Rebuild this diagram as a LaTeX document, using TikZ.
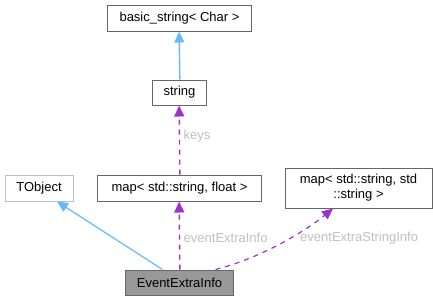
\documentclass[tikz,border=0pt]{standalone}
\usepackage{fontspec}
\setmainfont{Liberation Sans}
\usetikzlibrary{arrows.meta,calc}
\definecolor{boxborder}{HTML}{666666}
\definecolor{lightborder}{HTML}{BFBFBF}
\definecolor{mainfill}{HTML}{999999}
\definecolor{inhblue}{HTML}{63B8FF}
\definecolor{usepurple}{HTML}{9A32CD}
\definecolor{lblgray}{HTML}{BEBEBE}
\tikzset{
  cls/.style={draw=boxborder, line width=1pt, inner sep=0pt, align=center, font=\fontsize{13pt}{15pt}\selectfont, text=black},
  inh/.style={color=inhblue, line width=1.2pt, -{Triangle[length=11pt,width=10pt]}},
  use/.style={color=usepurple, line width=1.2pt, dash pattern=on 5pt off 5pt, -{Triangle[length=11pt,width=10pt]}},
  vert/.style={line width=1.4pt},
  lbl/.style={text=lblgray, font=\fontsize{13pt}{15pt}\selectfont, inner sep=0pt, anchor=west}
}
\begin{document}
\begin{tikzpicture}[x=1pt,y=-1pt]
\useasboundingbox (0,0) rectangle (433,301);
\node[cls, minimum width=144pt, minimum height=26pt] (bs) at (179.5,18) {basic\_string< Char >};
\node[cls, minimum width=54pt, minimum height=25pt] (str) at (179.5,92.5) {string};
\node[cls, minimum width=164pt, minimum height=26pt] (mapf) at (179.5,188) {map< std::string, float >};
\node[cls, draw=lightborder, minimum width=68pt, minimum height=26pt] (tobj) at (39,188) {TObject};
\node[cls, minimum width=147pt, minimum height=40pt] (maps) at (358.5,188) {map< std::string, std\\::string >};
\node[cls, fill=mainfill, minimum width=108pt, minimum height=25pt] (eei) at (179.5,282.5) {EventExtraInfo};

\draw[inh, vert] ($(str.north)+(0.35,0)$) -- ($(bs.south)+(-0.35,0)$);
\draw[use, vert] ($(mapf.north)+(0.35,0)$) -- ($(str.south)+(-0.35,0)$);
\node[lbl] (lkeys) at (183.5,136) {keys};
\draw[use, vert] ($(eei.north)+(0.35,0)$) -- ($(mapf.south)+(-0.35,0)$);
\node[lbl] (leei) at (183.5,238) {eventExtraInfo};
\draw[inh] ($(eei.north)+(-17,0)$) -- ($(tobj.south)+(18,0)$);
\draw[use] ($(eei.north)+(36,0)$) .. controls (258,259) and (303,233) .. ($(maps.south)+(-25.5,0)$);
\node[lbl] (lees) at (300,238) {eventExtraStringInfo};
\end{tikzpicture}
\end{document}
